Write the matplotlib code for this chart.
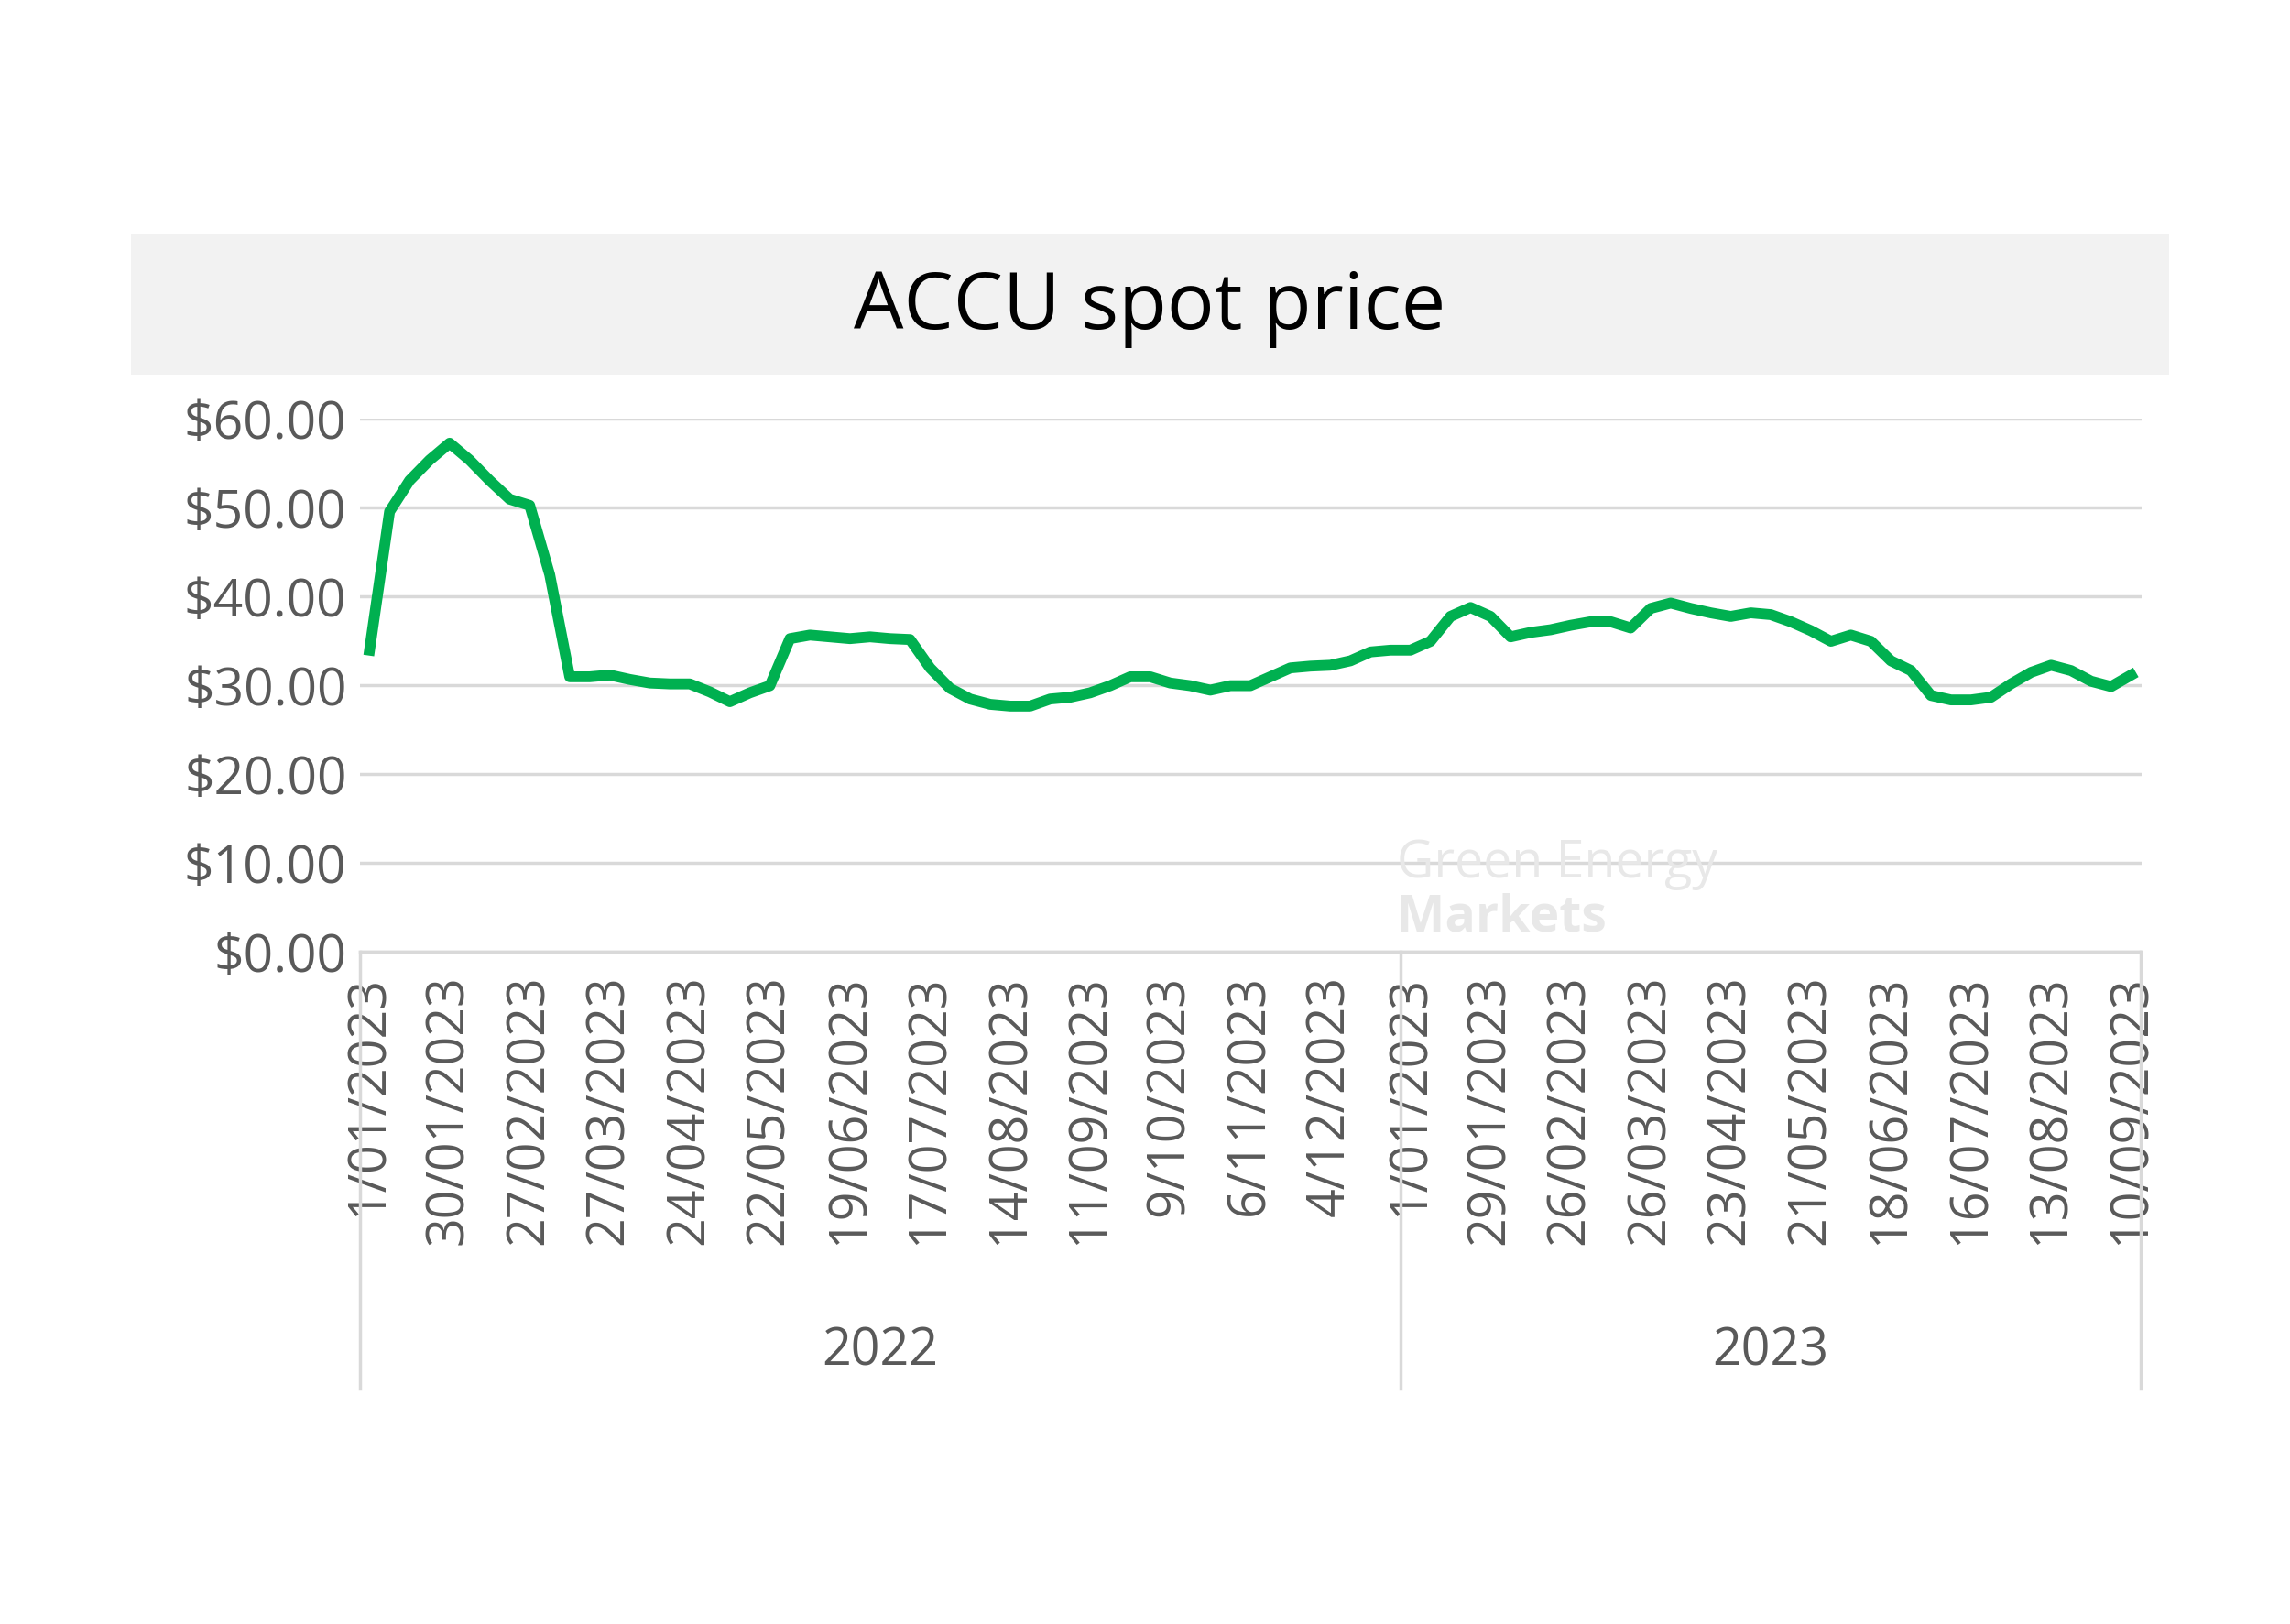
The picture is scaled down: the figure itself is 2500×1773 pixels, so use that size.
import matplotlib
matplotlib.use("Agg")
import matplotlib.pyplot as plt
from matplotlib.patches import Rectangle
import matplotlib.transforms as mtransforms

plt.rcParams['font.family'] = ['Open Sans', 'DejaVu Sans']

prices = [33.9, 49.5, 53.0, 55.3, 57.2, 55.3, 53.0, 50.9, 50.2, 42.4,
          30.9, 30.9, 31.1, 30.6, 30.2, 30.1, 30.1, 29.2, 28.1, 29.1,
          29.9, 35.2, 35.6, 35.4, 35.2, 35.4, 35.2, 35.1, 31.9, 29.6,
          28.4, 27.8, 27.6, 27.6, 28.4, 28.6, 29.1, 29.9, 30.9, 30.9,
          30.2, 29.9, 29.4, 29.9, 29.9, 30.9, 31.9, 32.1, 32.2, 32.7,
          33.7, 33.9,
          33.9, 34.9, 37.7, 38.7, 37.7, 35.4, 35.9, 36.2, 36.7, 37.1,
          37.1, 36.4, 38.6, 39.2, 38.6, 38.1, 37.7, 38.1, 37.9, 37.1,
          36.1, 34.9, 35.6, 34.9, 32.7, 31.6, 28.8, 28.3, 28.3, 28.6,
          30.1, 31.4, 32.2, 31.6, 30.4, 29.8, 31.1]
n_2022 = 52
tick_labels_2022 = ["1/01/2023", "30/01/2023", "27/02/2023", "27/03/2023", "24/04/2023",
                    "22/05/2023", "19/06/2023", "17/07/2023", "14/08/2023", "11/09/2023",
                    "9/10/2023", "6/11/2023", "4/12/2023"]
tick_labels_2023 = ["1/01/2023", "29/01/2023", "26/02/2023", "26/03/2023", "23/04/2023",
                    "21/05/2023", "18/06/2023", "16/07/2023", "13/08/2023", "10/09/2023"]
years = ["2022", "2023"]

fig = plt.figure(figsize=(25, 17.74), dpi=100)
fig.patches.append(Rectangle((0.057, 0.769), 0.89, 0.086, transform=fig.transFigure,
                             facecolor='#F2F2F2', edgecolor='none', zorder=0))
fig.text(0.502, 0.81, "ACCU spot price", ha='center', va='center', fontsize=62, color='black')

ax = fig.add_axes([0.157, 0.414, 0.778, 0.328])
x = list(range(len(prices)))
ax.plot(x, prices, color='#00B050', lw=8.5, solid_joinstyle='round', zorder=3)
ax.set_xlim(-0.5, len(prices) - 0.5)
ax.set_ylim(0, 60)
ax.set_yticks(range(0, 61, 10))
ax.set_yticklabels([f"${v:.2f}" for v in range(0, 61, 10)])
ax.grid(axis='y', color='#D9D9D9', lw=2.5)
ax.set_axisbelow(True)
for s in ['top', 'right', 'left']:
    ax.spines[s].set_visible(False)
ax.spines['bottom'].set_color('#D9D9D9')
ax.spines['bottom'].set_linewidth(2.5)
ticks = list(range(0, n_2022, 4)) + list(range(n_2022, len(prices), 4))
ax.set_xticks(ticks)
ax.set_xticklabels(tick_labels_2022 + tick_labels_2023, rotation=90)
ax.tick_params(axis='x', length=0, pad=18, labelsize=40, labelcolor='#595959')
ax.tick_params(axis='y', length=0, pad=10, labelsize=41, labelcolor='#595959')

trans = mtransforms.blended_transform_factory(ax.transData, ax.transAxes)
for b in [-0.5, n_2022 - 0.5, len(prices) - 0.5]:
    ax.plot([b, b], [0, -0.82], transform=trans, color='#D9D9D9', lw=2.5, clip_on=False)
ax.text((n_2022 - 1) / 2, -0.75, years[0], transform=trans, ha='center', va='center',
        fontsize=40, color='#595959')
ax.text((n_2022 + len(prices) - 1) / 2, -0.75, years[1], transform=trans, ha='center', va='center',
        fontsize=40, color='#595959')

fig.text(0.61, 0.468, "Green Energy", fontsize=40, color='#E8E8E8', ha='left', va='center')
fig.text(0.61, 0.435, "Markets", fontsize=40, color='#E8E8E8', ha='left', va='center', weight='bold')

fig.savefig("out.png", dpi=100, facecolor='white')
